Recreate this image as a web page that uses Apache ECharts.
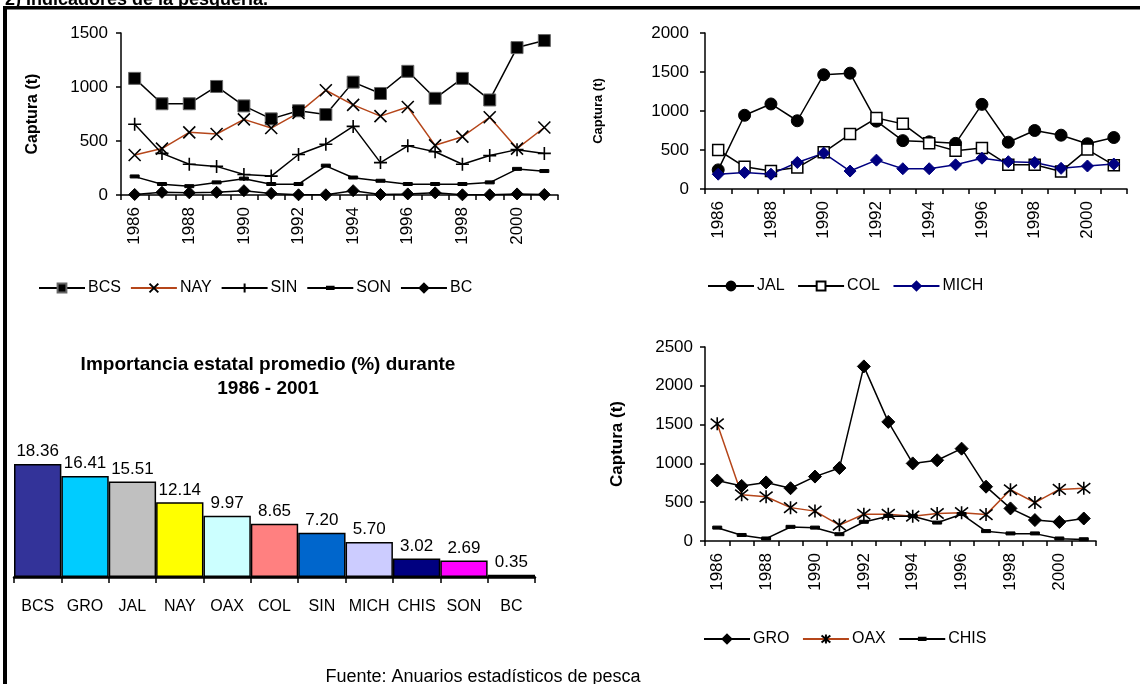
<!DOCTYPE html>
<html><head><meta charset="utf-8">
<script src="https://cdn.jsdelivr.net/npm/echarts@6/dist/echarts.min.js"></script>
<style>html,body{margin:0;padding:0;background:#fff}#c{width:1140px;height:684px}</style>
</head><body><div id="c"></div>
<script>
// ---- data ----
const years = ['1986','1987','1988','1989','1990','1991','1992','1993','1994','1995','1996','1997','1998','1999','2000','2001'];
// top-left panel
const BCS  = [1080, 845, 845, 1005, 825, 705, 780, 745, 1045, 940, 1145, 895, 1080, 880, 1365, 1430];
const NAY  = [370, 430, 580, 565, 700, 620, 760, 970, 835, 730, 815, 460, 540, 720, 430, 625];
const SIN  = [655, 385, 285, 265, 190, 175, 375, 470, 635, 300, 455, 400, 285, 365, 420, 385];
const SON  = [170, 100, 80, 115, 150, 100, 100, 270, 160, 130, 100, 100, 100, 115, 240, 220];
const BC   = [5, 25, 20, 25, 40, 15, 2, 2, 40, 5, 10, 20, 2, 2, 10, 5];
// top-right panel
const JAL  = [245, 945, 1090, 875, 1465, 1485, 870, 620, 605, 585, 1085, 600, 750, 690, 580, 660];
const COL  = [500, 285, 230, 275, 470, 705, 910, 835, 585, 490, 525, 310, 310, 225, 505, 305];
const MICH = [190, 210, 190, 340, 460, 230, 370, 260, 260, 310, 395, 350, 340, 265, 295, 320];
// bottom-right panel
const GRO  = [780, 710, 755, 680, 830, 940, 2250, 1535, 1000, 1040, 1190, 700, 420, 270, 245, 290];
const OAX  = [1510, 595, 570, 430, 385, 205, 345, 345, 320, 355, 365, 340, 660, 495, 665, 680];
const CHIS = [170, 75, 30, 180, 170, 85, 245, 320, 320, 235, 345, 125, 95, 95, 30, 20];
// bar panel
const barStates = ['BCS','GRO','JAL','NAY','OAX','COL','SIN','MICH','CHIS','SON','BC'];
const barValues = [18.36, 16.41, 15.51, 12.14, 9.97, 8.65, 7.20, 5.70, 3.02, 2.69, 0.35];
const barColors = ['#333399','#00CCFF','#C0C0C0','#FFFF00','#CCFFFF','#FF8080','#0066CC','#CCCCFF','#000080','#FF00FF','#000000'];
// axis ticks [min, max, interval]
const ticksTL = [0, 1500, 500];
const ticksTR = [0, 2000, 500];
const ticksBR = [0, 2500, 500];

// ---- styles ----
const FONT = '"Liberation Sans", Arial, sans-serif';
const BROWN = '#B5461A';
const XMARK = 'path://M0,0L10,10M10,0L0,10';
const PLUS = 'path://M5,0L5,10M0,5L10,5';
const STAR = 'path://M0,1L10,9M10,1L0,9M5,0L5,10';
const DASH = 'path://M0,0M12,12M1.5,4.3L10.5,4.3L10.5,7.3L1.5,7.3Z';

function lineSeries(name, data, idx, symbol, size, item, lineColor) {
  return {
    type: 'line', name, data, xAxisIndex: idx, yAxisIndex: idx,
    symbol, symbolSize: size, showAllSymbol: true, symbolKeepAspect: true,
    itemStyle: item,
    lineStyle: { color: lineColor || '#000', width: 1.5 },
    emphasis: { disabled: true }, animation: false, z: 3
  };
}
const blackFill = { color: '#000', borderColor: '#000', borderWidth: 1 };
const strokeOnly = { color: '#000', borderColor: '#000', borderWidth: 1.6 };

function xCat(idx, fs) {
  return {
    type: 'category', gridIndex: idx, data: years, boundaryGap: true,
    axisLine: { lineStyle: { color: '#000', width: 1.5 } },
    axisTick: { show: true, interval: 0, length: 5, lineStyle: { color: '#000', width: 1.5 } },
    axisLabel: { interval: 1, rotate: 90, color: '#000', fontSize: fs, fontFamily: FONT, margin: 12 }
  };
}
function yVal(idx, t, fs, margin, nameFs, gap) {
  return {
    type: 'value', gridIndex: idx, min: t[0], max: t[1], interval: t[2],
    name: 'Captura (t)', nameLocation: 'middle', nameRotate: 90, nameGap: gap,
    nameTextStyle: { color: '#000', fontSize: nameFs, fontWeight: 'bold', fontFamily: FONT },
    axisLine: { show: true, lineStyle: { color: '#000', width: 1.5 } },
    axisTick: { show: true, length: 5, lineStyle: { color: '#000', width: 1.5 } },
    axisLabel: { color: '#000', fontSize: fs, fontFamily: FONT, margin, formatter: v => String(v) },
    splitLine: { show: false }
  };
}
function legend(names, left, top, gap) {
  return {
    data: names, left, top, orient: 'horizontal', itemWidth: 46, itemHeight: 11, itemGap: gap,
    textStyle: { color: '#000', fontSize: 16, fontFamily: FONT, padding: [0, 0, 0, -2] },
    selectedMode: false
  };
}

const option = {
  animation: false,
  backgroundColor: '#fff',
  grid: [
    { left: 121, top: 33, width: 437, height: 162, containLabel: false, outerBoundsMode: 'none' },
    { left: 705, top: 33, width: 422, height: 156, containLabel: false, outerBoundsMode: 'none' },
    { left: 705, top: 347, width: 391, height: 194, containLabel: false, outerBoundsMode: 'none' },
    { left: 14, top: 454, width: 521, height: 123, containLabel: false, outerBoundsMode: 'none' }
  ],
  xAxis: [
    xCat(0, 17), xCat(1, 17), xCat(2, 17),
    { type: 'category', gridIndex: 3, data: barStates,
      axisLine: { lineStyle: { color: '#000', width: 2.5 } },
      axisTick: { show: true, interval: 0, length: 6, lineStyle: { color: '#000', width: 1.5 } },
      axisLabel: { interval: 0, color: '#000', fontSize: 16, fontFamily: FONT, margin: 22 } }
  ],
  yAxis: [
    yVal(0, ticksTL, 17, 13, 16, 80), yVal(1, ticksTR, 17, 16, 13, 100), yVal(2, ticksBR, 17, 12, 17, 79),
    { type: 'value', gridIndex: 3, min: 0, max: 20, show: false }
  ],
  legend: [
    legend(['BCS','NAY','SIN','SON','BC'], 33, 275, 9),
    legend(['JAL','COL','MICH'], 702, 273, 12.5),
    legend(['GRO','OAX','CHIS'], 698, 626, 12.5)
  ],
  series: [
    lineSeries('BCS', BCS, 0, 'rect', 12, { color: '#000', borderColor: '#666', borderWidth: 1 }),
    lineSeries('NAY', NAY, 0, XMARK, 12, strokeOnly, BROWN),
    lineSeries('SIN', SIN, 0, PLUS, 13, strokeOnly),
    lineSeries('SON', SON, 0, DASH, 12, blackFill),
    lineSeries('BC', BC, 0, 'diamond', 12, blackFill),
    lineSeries('JAL', JAL, 1, 'circle', 12, blackFill),
    lineSeries('COL', COL, 1, 'rect', 11, { color: '#fff', borderColor: '#000', borderWidth: 1.5 }),
    lineSeries('MICH', MICH, 1, 'diamond', 12, { color: '#000080', borderColor: '#000080', borderWidth: 1 }, '#000080'),
    lineSeries('GRO', GRO, 2, 'diamond', 13, blackFill),
    lineSeries('OAX', OAX, 2, STAR, 13, strokeOnly, BROWN),
    lineSeries('CHIS', CHIS, 2, DASH, 12, blackFill),
    {
      type: 'bar', xAxisIndex: 3, yAxisIndex: 3, barCategoryGap: '0%',
      data: barValues.map((v, i) => ({ value: v, itemStyle: { color: barColors[i] } })),
      itemStyle: { borderColor: '#000', borderWidth: 1.5 },
      label: { show: true, position: 'top', distance: 4, color: '#000', fontSize: 17, fontFamily: FONT,
               formatter: p => p.value.toFixed(2) },
      emphasis: { disabled: true }, animation: false
    }
  ],
  graphic: [
    { type: 'rect', shape: { x: 3, y: 6, width: 1137, height: 3.5 }, style: { fill: '#000' }, silent: true },
    { type: 'rect', shape: { x: 3, y: 6, width: 4, height: 678 }, style: { fill: '#000' }, silent: true },
    { type: 'text', x: 5, y: 0, silent: true,
      style: { text: '2) Indicadores de la pesquería.', fill: '#000', font: 'bold 18px ' + FONT, align: 'left', verticalAlign: 'middle' } },
    { type: 'text', x: 268, y: 377, silent: true,
      style: { text: 'Importancia estatal promedio (%) durante\n1986 - 2001', fill: '#000', font: 'bold 19px ' + FONT,
               align: 'center', verticalAlign: 'middle', lineHeight: 24 } },
    { type: 'text', x: 483, y: 677, silent: true,
      style: { text: 'Fuente: Anuarios estadísticos de pesca', fill: '#000', font: '18px ' + FONT, align: 'center', verticalAlign: 'middle' } }
  ]
};
const chart = echarts.init(document.getElementById('c'), null, { renderer: 'canvas' });
chart.setOption(option);
</script>
</body></html>
